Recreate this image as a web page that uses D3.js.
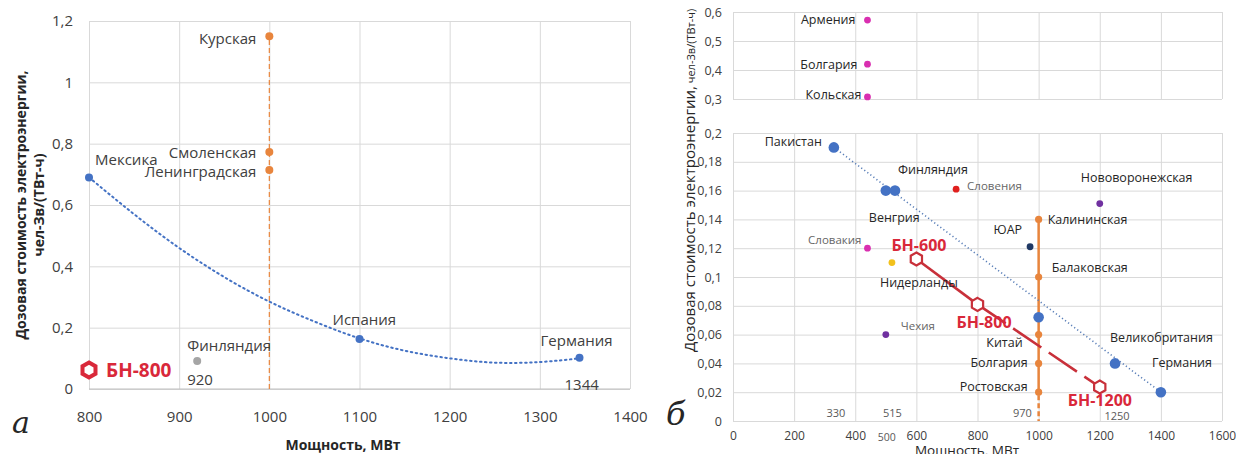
<!DOCTYPE html>
<html>
<head>
<meta charset="utf-8">
<script src="https://cdn.jsdelivr.net/npm/d3@7"></script>
<style>
  body { margin: 0; background: #fff; }
  svg { font-family: "Open Sans", sans-serif; }
  .grid line { stroke: #d9d9d9; stroke-width: 1; }
  .grid path { display: none; }
  .ticks path, .ticks line { display: none; }
</style>
</head>
<body>
<svg width="1236" height="454"></svg>
<script>
// ---------- panel a data ----------
var aTicksX = [800, 900, 1000, 1100, 1200, 1300, 1400];
var aTicksY = [0, 0.2, 0.4, 0.6, 0.8, 1, 1.2];
var aBlueNames = ["Мексика", "Испания", "Германия"];
var aBlueX = [800, 1100, 1344];
var aBlueY = [0.69, 0.163, 0.102];
var aOrangeNames = ["Курская", "Смоленская", "Ленинградская"];
var aOrangeX = [1000, 1000, 1000];
var aOrangeY = [1.15, 0.773, 0.714];
var aGrayNames = ["Финляндия"];
var aGrayX = [920];
var aGrayY = [0.091];
// dotted trend
var aTrendX = [800, 850, 900, 950, 1000, 1050, 1100, 1150, 1200, 1250, 1300, 1344];
var aTrendY = [0.69, 0.57, 0.46, 0.365, 0.285, 0.22, 0.165, 0.125, 0.10, 0.086, 0.088, 0.10];
var aBNNames = ["БН-800"];
var aBNX = [800];
var aBNY = [0.062];
var aNotesX = [920, 1344];

// ---------- panel б data ----------
var bTicksX = [0, 200, 400, 600, 800, 1000, 1200, 1400, 1600];
var bTicksLow = [0, 0.02, 0.04, 0.06, 0.08, 0.1, 0.12, 0.14, 0.16, 0.18, 0.2];
var bTicksHigh = [0.3, 0.4, 0.5, 0.6];
var bBlueNames = ["Пакистан", "Венгрия", "Финляндия", "", "Великобритания", "Германия"];
var bBlueX = [330, 500, 530, 1000, 1250, 1400];
var bBlueY = [0.19, 0.16, 0.16, 0.072, 0.04, 0.02];
var bTrendX = [330, 1400];
var bTrendY = [0.19, 0.02];
var bOrangeNames = ["Калининская", "Балаковская", "Китай", "Болгария", "Ростовская"];
var bOrangeX = [1000, 1000, 1000, 1000, 1000];
var bOrangeY = [0.14, 0.10, 0.06, 0.04, 0.02];
var bOtherNames = ["Словения", "Нововоронежская", "ЮАР", "Словакия", "Нидерланды", "Чехия"];
var bOtherX = [730, 1200, 972, 440, 520, 500];
var bOtherY = [0.161, 0.151, 0.121, 0.12, 0.11, 0.06];
var bTopNames = ["Армения", "Болгария", "Кольская"];
var bTopX = [440, 440, 440];
var bTopY = [0.572, 0.42, 0.307];
var bBNNames = ["БН-600", "БН-800", "БН-1200"];
var bBNX = [600, 800, 1200];
var bBNY = [0.1125, 0.081, 0.0236];
var bNotesX = [330, 515, 970, 1250];

// ---------- styles / label layout ----------
var blue = "#4472c4", orange = "#e8853d", red = "#c8303a";
var bOtherColors = ["#e0201e", "#7030a0", "#1f3864", "#d92fb0", "#f2c11c", "#7030a0"];
var bOtherGray = ["Словения", "Словакия", "Чехия"];
// label offsets: [dx, dy, anchor]
var aLab = {
  "Мексика": [6, -18, "start"], "Испания": [-27, -20, "start"], "Германия": [-39, -18, "start"],
  "Курская": [-13, 2, "end"], "Смоленская": [-13, 0, "end"], "Ленинградская": [-13, 1, "end"],
  "Финляндия": [-10, -16, "start"]
};
var bLab = {
  "Пакистан": [-12, -6, "end"], "Венгрия": [-17, 27, "start"], "Финляндия": [3, -21, "start"],
  "Великобритания": [-5, -26, "start"], "Германия": [-9, -30, "start"],
  "Калининская": [9, 0, "start"], "Балаковская": [13, -10, "start"], "Китай": [-16, 8, "end"],
  "Болгария": [-11, -1, "end"], "Ростовская": [-11, -6, "end"],
  "Словения": [11, -4, "start"], "Нововоронежская": [-19, -26, "start"], "ЮАР": [-8, -17, "end"],
  "Словакия": [-6, -9, "end"], "Нидерланды": [-12, 20, "start"], "Чехия": [15, -9, "start"]
};
var bTopLab = { "Армения": [-12, -1], "Болгария": [-10, 0], "Кольская": [-6, -2] };
var bBNLab = { "БН-600": [-25, -14], "БН-800": [-21, 18], "БН-1200": [-32, 13] };

var comma = function(d) { return String(d).replace(".", ","); };
var plain = function(d) { return String(d); };
var svg = d3.select("svg");

function hexPath(cx, cy, r) {
  var pts = d3.range(6).map(function(i) {
    var a = Math.PI / 3 * i - Math.PI / 2;
    return [cx + r * Math.cos(a), cy + r * Math.sin(a)];
  });
  return "M" + pts.join("L") + "Z";
}

// =================== panel a ===================
var xa = d3.scaleLinear().domain([800, 1400]).range([89, 630]),
    ya = d3.scaleLinear().domain([0, 1.2]).range([389, 21]);
var ga = svg.append("g");

ga.append("g").attr("class", "grid")
    .attr("transform", "translate(0,389)")
    .call(d3.axisBottom(xa).tickValues(aTicksX).tickSize(-368).tickFormat(""));
ga.append("g").attr("class", "grid")
    .attr("transform", "translate(89,0)")
    .call(d3.axisLeft(ya).tickValues(aTicksY).tickSize(-541).tickFormat(""));
ga.append("line").attr("x1", 89).attr("x2", 630).attr("y1", 389).attr("y2", 389)
    .attr("stroke", "#bfbfbf");

ga.append("g").attr("class", "ticks")
    .attr("transform", "translate(0,389)")
    .call(d3.axisBottom(xa).tickValues(aTicksX).tickSize(0).tickPadding(22).tickFormat(plain))
    .selectAll("text").attr("font-size", 15).attr("fill", "#404040").attr("font-family", "Open Sans");
ga.append("g").attr("class", "ticks")
    .attr("transform", "translate(89,0)")
    .call(d3.axisLeft(ya).tickValues(aTicksY).tickSize(0).tickPadding(16).tickFormat(comma))
    .selectAll("text").attr("font-size", 15).attr("fill", "#404040").attr("font-family", "Open Sans");

// orange dashed line at 1000
ga.append("line")
    .attr("x1", xa(1000)).attr("x2", xa(1000))
    .attr("y1", ya(0)).attr("y2", ya(d3.max(aOrangeY)))
    .attr("stroke", orange).attr("stroke-width", 1.2).attr("stroke-dasharray", "5,3");

// trend
var aTrend = aTrendX.map(function(d, i) { return [d, aTrendY[i]]; });
ga.append("path").datum(aTrend)
    .attr("fill", "none").attr("stroke", blue).attr("stroke-width", 2)
    .attr("stroke-dasharray", "1.5,3.5").attr("stroke-linecap", "round")
    .attr("d", d3.line().x(function(d) { return xa(d[0]); }).y(function(d) { return ya(d[1]); }).curve(d3.curveNatural));

function aPoints(names, xs, ys, color) {
  var data = names.map(function(n, i) { return { n: n, x: xs[i], y: ys[i] }; });
  ga.selectAll(null).data(data).enter().append("circle")
      .attr("cx", function(d) { return xa(d.x); })
      .attr("cy", function(d) { return ya(d.y); })
      .attr("r", 4).attr("fill", color);
  ga.selectAll(null).data(data).enter().append("text")
      .attr("x", function(d) { return xa(d.x) + aLab[d.n][0]; })
      .attr("y", function(d) { return ya(d.y) + aLab[d.n][1]; })
      .attr("text-anchor", function(d) { return aLab[d.n][2]; })
      .attr("dominant-baseline", "central")
      .attr("font-size", 15).attr("fill", "#404040")
      .text(function(d) { return d.n; });
}
aPoints(aOrangeNames, aOrangeX, aOrangeY, orange);
aPoints(aBlueNames, aBlueX, aBlueY, blue);
aPoints(aGrayNames, aGrayX, aGrayY, "#a5a5a5");

// value notes under points
ga.selectAll(null).data(aNotesX).enter().append("text")
    .attr("x", function(d) { return xa(d) - (d === 1344 ? 15 : 10); })
    .attr("y", function(d, i) { return ya([aGrayY[0], aBlueY[2]][i]) + (d === 1344 ? 26 : 18); })
    .attr("dominant-baseline", "central")
    .attr("font-size", 15).attr("fill", "#404040")
    .text(function(d) { return d; });

// BN-800 marker
aBNNames.forEach(function(n, i) {
  ga.append("path").attr("d", hexPath(xa(aBNX[i]), ya(aBNY[i]), 7.5))
      .attr("fill", "#fff").attr("stroke", "#d9283a").attr("stroke-width", 4);
  ga.append("text").attr("x", xa(aBNX[i]) + 17).attr("y", ya(aBNY[i]))
      .attr("dominant-baseline", "central")
      .attr("font-size", 19).attr("font-weight", "bold").attr("fill", "#d9283a")
      .text(n);
});

// axis titles
ga.append("text").attr("x", 343).attr("y", 450).attr("text-anchor", "middle")
    .attr("font-size", 14).attr("font-weight", "bold").attr("fill", "#262626")
    .text("Мощность, МВт");
ga.append("text").attr("transform", "translate(26,205) rotate(-90)").attr("text-anchor", "middle")
    .attr("font-size", 14).attr("font-weight", "bold").attr("fill", "#262626")
    .text("Дозовая стоимость электроэнергии,");
ga.append("text").attr("transform", "translate(44,205) rotate(-90)").attr("text-anchor", "middle")
    .attr("font-size", 14).attr("font-weight", "bold").attr("fill", "#262626")
    .text("чел-Зв/(ТВт-ч)");
ga.append("text").attr("x", 12).attr("y", 433)
    .attr("font-family", "DejaVu Serif").attr("font-style", "italic").attr("font-size", 30)
    .attr("fill", "#262626").text("а");

// =================== panel б ===================
var xb = d3.scaleLinear().domain([0, 1600]).range([733, 1222]),
    yb = d3.scaleLinear().domain([0, 0.2]).range([421, 133]),
    yt = d3.scaleLinear().domain([0.3, 0.6]).range([99, 12]);
var gb = svg.append("g");

// top panel grid
gb.append("g").attr("class", "grid")
    .attr("transform", "translate(0,99)")
    .call(d3.axisBottom(xb).tickValues(bTicksX).tickSize(-87).tickFormat(""));
gb.append("g").attr("class", "grid")
    .attr("transform", "translate(733,0)")
    .call(d3.axisLeft(yt).tickValues(bTicksHigh).tickSize(-489).tickFormat(""));
// bottom panel grid
gb.append("g").attr("class", "grid")
    .attr("transform", "translate(0,421)")
    .call(d3.axisBottom(xb).tickValues(bTicksX).tickSize(-288).tickFormat(""));
gb.append("g").attr("class", "grid")
    .attr("transform", "translate(733,0)")
    .call(d3.axisLeft(yb).tickValues(bTicksLow).tickSize(-489).tickFormat(""));

gb.append("g").attr("class", "ticks")
    .attr("transform", "translate(0,421)")
    .call(d3.axisBottom(xb).tickValues(bTicksX).tickSize(0).tickPadding(10).tickFormat(plain))
    .selectAll("text").attr("font-size", 12).attr("fill", "#404040").attr("font-family", "Open Sans");
gb.append("g").attr("class", "ticks")
    .attr("transform", "translate(733,0)")
    .call(d3.axisLeft(yb).tickValues(bTicksLow).tickSize(0).tickPadding(11).tickFormat(comma))
    .selectAll("text").attr("font-size", 12.5).attr("fill", "#404040").attr("font-family", "Open Sans");
gb.append("g").attr("class", "ticks")
    .attr("transform", "translate(733,0)")
    .call(d3.axisLeft(yt).tickValues(bTicksHigh).tickSize(0).tickPadding(11).tickFormat(comma))
    .selectAll("text").attr("font-size", 12.5).attr("fill", "#404040").attr("font-family", "Open Sans");

// extra "500" on the axis row and value notes
gb.append("text").attr("x", xb(500) + 1).attr("y", 441).attr("text-anchor", "middle")
    .attr("font-size", 10.5).attr("fill", "#595959").text(500);
gb.selectAll(null).data(bNotesX).enter().append("text")
    .attr("x", function(d) { return xb(d) + (d === 970 ? -7 : 2); })
    .attr("y", function(d) { return d === 1250 ? 420 : 417; })
    .attr("text-anchor", "middle")
    .attr("font-size", 11).attr("fill", "#595959")
    .text(function(d) { return d; });

// orange vertical line at 1000
gb.append("line")
    .attr("x1", xb(1000)).attr("x2", xb(1000))
    .attr("y1", yb(d3.max(bOrangeY))).attr("y2", yb(d3.min(bOrangeY)) + 3)
    .attr("stroke", orange).attr("stroke-width", 2.5);
gb.append("line")
    .attr("x1", xb(1000)).attr("x2", xb(1000))
    .attr("y1", yb(d3.min(bOrangeY)) + 3).attr("y2", yb(0))
    .attr("stroke", orange).attr("stroke-width", 2.5).attr("stroke-dasharray", "5,3");

// blue trend
var bTrend = bTrendX.map(function(d, i) { return [d, bTrendY[i]]; });
gb.append("path").datum(bTrend)
    .attr("fill", "none").attr("stroke", "#5a7fb8").attr("stroke-width", 1.6)
    .attr("stroke-dasharray", "1.2,2.6")
    .attr("d", d3.line().x(function(d) { return xb(d[0]); }).y(function(d) { return yb(d[1]); }));

// BN line: solid to БН-800, long dash after
var bBN = bBNX.map(function(d, i) { return [d, bBNY[i]]; });
var bnLine = d3.line().x(function(d) { return xb(d[0]); }).y(function(d) { return yb(d[1]); });
gb.append("path").datum(bBN.slice(0, 2))
    .attr("fill", "none").attr("stroke", red).attr("stroke-width", 2.6).attr("d", bnLine);
gb.append("path").datum(bBN.slice(1))
    .attr("fill", "none").attr("stroke", red).attr("stroke-width", 2.6)
    .attr("stroke-dasharray", "34,9").attr("d", bnLine);

function bPoints(names, xs, ys, colors, r, sc) {
  var data = names.map(function(n, i) { return { n: n, x: xs[i], y: ys[i], c: colors[i] }; });
  gb.selectAll(null).data(data).enter().append("circle")
      .attr("cx", function(d) { return xb(d.x); })
      .attr("cy", function(d) { return sc(d.y); })
      .attr("r", r).attr("fill", function(d) { return d.c; });
  gb.selectAll(null).data(data.filter(function(d) { return d.n; })).enter().append("text")
      .attr("x", function(d) { return xb(d.x) + bLab[d.n][0]; })
      .attr("y", function(d) { return sc(d.y) + bLab[d.n][1]; })
      .attr("text-anchor", function(d) { return bLab[d.n][2]; })
      .attr("dominant-baseline", "central")
      .attr("font-size", function(d) { return bOtherGray.indexOf(d.n) >= 0 ? 11.5 : 12.5; })
      .attr("fill", function(d) { return bOtherGray.indexOf(d.n) >= 0 ? "#666" : "#262626"; })
      .text(function(d) { return d.n; });
}
bPoints(bOrangeNames, bOrangeX, bOrangeY, bOrangeNames.map(function() { return orange; }), 3.6, yb);
bPoints(bOtherNames, bOtherX, bOtherY, bOtherColors, 3.4, yb);
bPoints(bBlueNames, bBlueX, bBlueY, bBlueNames.map(function() { return blue; }), 5.3, yb);

// top panel points
bTopNames.forEach(function(n, i) {
  gb.append("circle").attr("cx", xb(bTopX[i])).attr("cy", yt(bTopY[i])).attr("r", 3.4).attr("fill", "#d92fb0");
  gb.append("text").attr("x", xb(bTopX[i]) + bTopLab[n][0]).attr("y", yt(bTopY[i]) + bTopLab[n][1])
      .attr("text-anchor", "end").attr("dominant-baseline", "central")
      .attr("font-size", 12.5).attr("fill", "#262626").text(n);
});

// BN markers
bBNNames.forEach(function(n, i) {
  var cx = xb(bBNX[i]), cy = yb(bBNY[i]);
  gb.append("path").attr("d", hexPath(cx, cy, 6.5))
      .attr("fill", "#fff").attr("stroke", red).attr("stroke-width", 2.2);
  gb.append("text").attr("x", cx + bBNLab[n][0]).attr("y", cy + bBNLab[n][1])
      .attr("dominant-baseline", "central")
      .attr("font-size", 16).attr("font-weight", "bold").attr("fill", "#d9283a")
      .text(n);
});

// axis titles
gb.append("text").attr("x", 967).attr("y", 455).attr("text-anchor", "middle")
    .attr("font-size", 13.5).attr("fill", "#262626").text("Мощность, МВт");
var yTitle = gb.append("text").attr("transform", "translate(695,352) rotate(-90)")
    .attr("fill", "#262626");
yTitle.append("tspan").attr("font-size", 15).text("Дозовая стоимость электроэнергии,");
yTitle.append("tspan").attr("font-size", 11).text(" чел-Зв/(ТВт-ч)");
gb.append("text").attr("x", 666).attr("y", 425)
    .attr("font-family", "DejaVu Serif").attr("font-style", "italic").attr("font-size", 32)
    .attr("fill", "#262626").text("б");
</script>
</body>
</html>
